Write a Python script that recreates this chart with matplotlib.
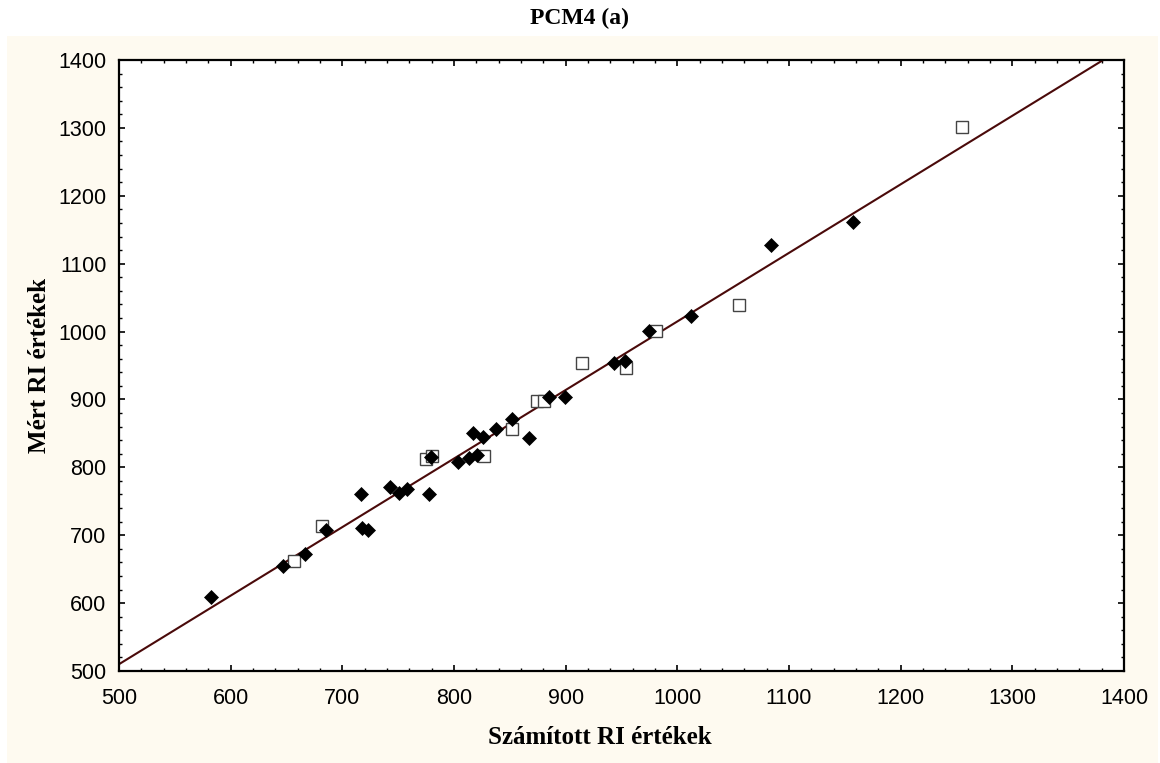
import matplotlib
matplotlib.use("Agg")
import matplotlib.pyplot as plt
from matplotlib.patches import Rectangle
from matplotlib.ticker import MultipleLocator

# ---- data ----
diamond_calc = [582, 647, 667, 685, 717, 718, 723, 743, 751, 758, 778, 779, 804, 813,
                821, 817, 826, 838, 852, 867, 885, 899, 943, 953, 975, 1012, 1084, 1157]
diamond_meas = [609, 655, 673, 708, 761, 711, 708, 771, 762, 768, 761, 815, 808, 814,
                818, 850, 844, 856, 871, 843, 904, 903, 953, 957, 1001, 1023, 1127, 1162]
square_calc = [657, 682, 775, 780, 827, 852, 874, 881, 915, 954, 981, 1055, 1255]
square_meas = [662, 713, 813, 816, 816, 857, 898, 898, 954, 947, 1001, 1039, 1302]
fit_intercept = 5.1
fit_slope = 1.0098
x_ticks = [500, 600, 700, 800, 900, 1000, 1100, 1200, 1300, 1400]
y_ticks = [500, 600, 700, 800, 900, 1000, 1100, 1200, 1300, 1400]

W, H = 1160, 763
fig = plt.figure(figsize=(W / 100, H / 100), dpi=100)
fig.patch.set_facecolor("white")
# cream panel
fig.patches.append(Rectangle((7 / W, 0), (1158 - 7) / W, 1 - 36 / H,
                             transform=fig.transFigure, facecolor="#fefaf0",
                             edgecolor="none", zorder=-10))

ax = fig.add_axes([119 / W, 1 - 671 / H, (1124 - 119) / W, (671 - 60) / H])
ax.set_zorder(5)
ax.set_facecolor("white")
ax.set_xlim(500, 1400)
ax.set_ylim(500, 1400)

ax.axline((0, fit_intercept), slope=fit_slope, color="#4a0a0a", lw=1.5, zorder=2)
ax.plot(square_calc, square_meas, linestyle="none", marker="s", ms=8,
        mfc="white", mec="#444444", mew=1.0, zorder=3)
ax.plot(diamond_calc, diamond_meas, linestyle="none", marker="D", ms=7,
        mfc="black", mec="black", mew=0.5, zorder=4)

ax.set_xticks(x_ticks)
ax.set_yticks(y_ticks)
ax.xaxis.set_minor_locator(MultipleLocator(20))
ax.yaxis.set_minor_locator(MultipleLocator(20))
ax.tick_params(which="both", direction="in", top=True, right=True, color="black")
ax.tick_params(which="major", length=4, width=1.2)
ax.tick_params(which="minor", length=2.5, width=1.0)
ax.tick_params(axis="x", which="major", pad=12)
ax.tick_params(axis="y", which="major", pad=9)
for lab in ax.get_xticklabels() + ax.get_yticklabels():
    lab.set_fontfamily("Liberation Sans")
    lab.set_fontsize(15.5)
for sp in ax.spines.values():
    sp.set_linewidth(1.6)
    sp.set_color("black")

fig.text(580 / W, 1 - 18 / H, "PCM4 (a)", ha="center", va="center",
         fontfamily="Liberation Serif", fontweight="bold", fontsize=17)
fig.text(600 / W, 1 - 738 / H, "Számított RI értékek", ha="center", va="center",
         fontfamily="Liberation Serif", fontweight="bold", fontsize=18)
fig.text(40 / W, 1 - 365 / H, "Mért RI értékek", ha="center", va="center",
         rotation=90, fontfamily="Liberation Serif", fontweight="bold", fontsize=18)

fig.savefig("out.png", dpi=100, facecolor=fig.get_facecolor())
